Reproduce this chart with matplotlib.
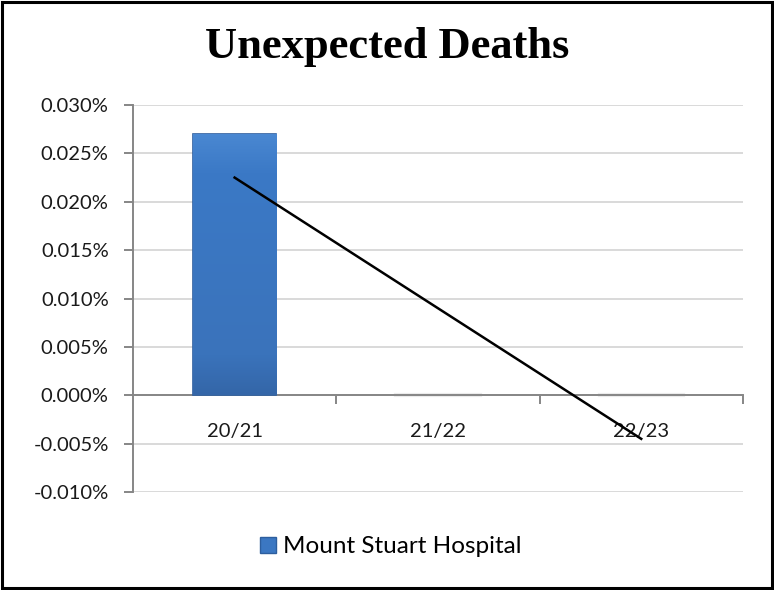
import numpy as np
import matplotlib
matplotlib.use("Agg")
import matplotlib.pyplot as plt
from matplotlib.patches import Rectangle, Patch
from matplotlib.ticker import FuncFormatter, FixedLocator

# data (values in percent)
categories = ["20/21", "21/22", "22/23"]
deaths_pct = [0.027, 0.0, 0.0]
trend_pct = [0.0225, -0.0045]   # linear trendline end points
series_name = "Mount Stuart Hospital"
y_ticks = [-0.010, -0.005, 0.000, 0.005, 0.010, 0.015, 0.020, 0.025, 0.030]

plt.rcParams['font.family'] = ['Lato', 'DejaVu Sans']

fig = plt.figure(figsize=(7.74, 5.90), dpi=100)
ax = fig.add_axes([0.1718, 0.166, 0.788, 0.656])

x = np.arange(len(categories))
bars = ax.bar(x, deaths_pct, width=0.41, color="#3b77c2", edgecolor="none", zorder=3)

# soft vertical gradient inside the bar, Excel-style
grad = np.linspace(0, 1, 256).reshape(-1, 1)
cmap = matplotlib.colors.LinearSegmentedColormap.from_list(
    "bar", [(0, "#3466a8"), (0.15, "#3a73bb"), (0.85, "#3b79c6"), (1, "#4a88d2")])
for b in bars:
    if b.get_height() <= 0:
        # zero-height bars only leave a faint shadow under the axis
        ax.plot([b.get_x(), b.get_x() + b.get_width()], [0, 0], color="#ececec",
                linewidth=3, zorder=1, transform=ax.transData)
        continue
    b.set_edgecolor("#2d5e9e")
    b.set_linewidth(1.2)
    x0, y0 = b.get_x(), b.get_y()
    im = ax.imshow(grad, extent=[x0, x0 + b.get_width(), y0, y0 + b.get_height()],
                   origin="lower", cmap=cmap, aspect="auto", zorder=3)
    im.set_clip_path(b)

# trendline
ax.plot([x[0], x[-1]], trend_pct, color="black", linewidth=1.8, zorder=4)

ax.set_xlim(-0.5, len(categories) - 0.5)
ax.set_ylim(y_ticks[0], y_ticks[-1])
ax.set_yticks(y_ticks)
ax.yaxis.set_major_formatter(FuncFormatter(lambda v, p: f"{v:.3f}%"))
ax.grid(axis="y", color="#d9d9d9", linewidth=1.4, zorder=0)
ax.set_axisbelow(True)

for s in ["top", "right"]:
    ax.spines[s].set_visible(False)
ax.spines["left"].set_color("#868686")
ax.spines["left"].set_linewidth(1.4)
ax.spines["bottom"].set_position(("data", 0))
ax.spines["bottom"].set_color("#868686")
ax.spines["bottom"].set_linewidth(1.4)
ax.spines["bottom"].set_zorder(2)

ax.set_xticks(x)
ax.set_xticklabels(categories)
ax.xaxis.set_minor_locator(FixedLocator([0.5, 1.5, 2.5]))
ax.tick_params(axis="x", which="major", length=0, pad=20, labelsize=14.5, labelcolor="#1a1a1a")
ax.tick_params(axis="x", which="minor", length=6.5, width=1.4, color="#868686", direction="out")
ax.tick_params(axis="y", length=6.5, width=1.4, color="#868686", pad=11,
               labelsize=14.5, labelcolor="#1a1a1a")

fig.suptitle("Unexpected Deaths", x=0.5, y=0.955, fontsize=32, fontweight="bold",
             family=["Liberation Serif", "DejaVu Serif"])

handle = Patch(facecolor="#3b77c2", edgecolor="#2d5e9e")
fig.legend([handle], [series_name], loc="center", bbox_to_anchor=(0.505, 0.073),
           frameon=False, fontsize=17.5, handlelength=0.62, handleheight=0.62,
           handletextpad=0.3)

# chart border
fig.patches.append(Rectangle((0.002, 0.003), 0.996, 0.994, transform=fig.transFigure,
                             fill=False, edgecolor="black", linewidth=2.2))

fig.savefig("out.png", dpi=100)
